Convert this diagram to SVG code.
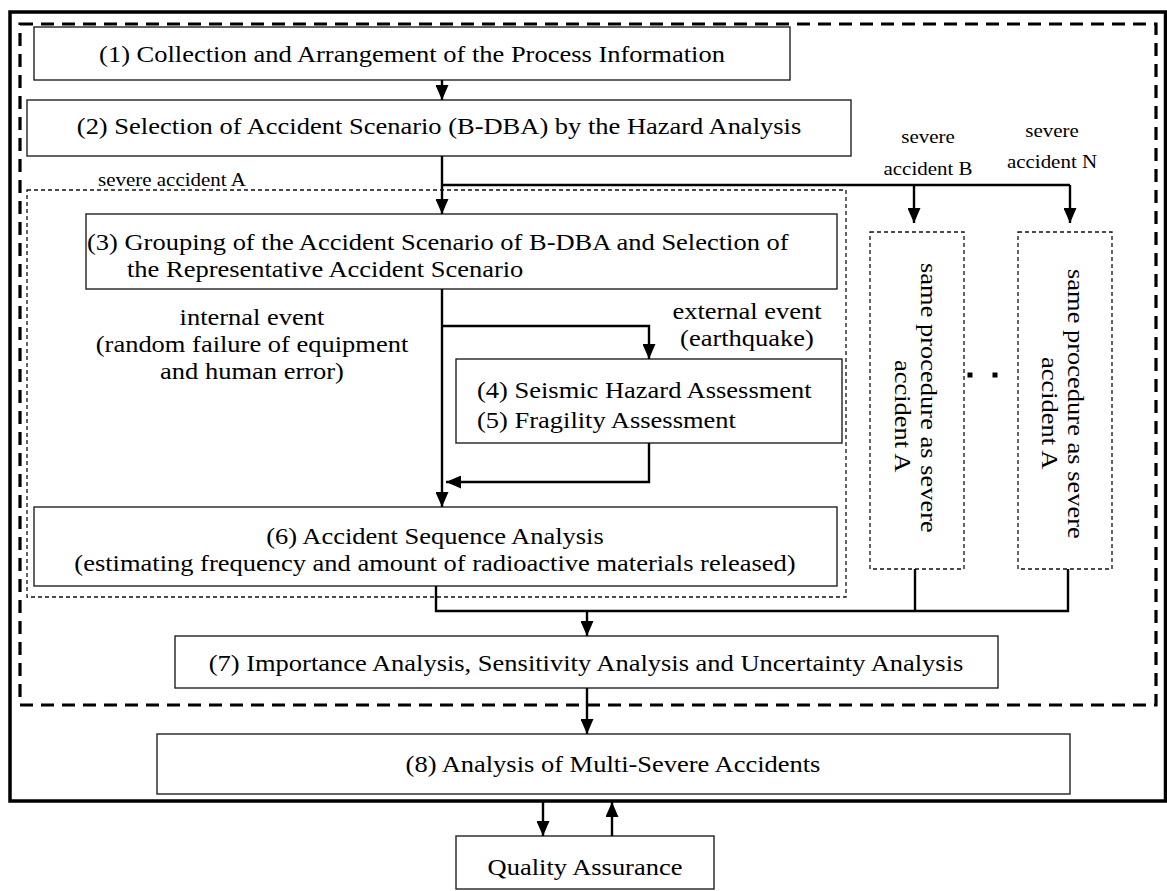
<svg xmlns="http://www.w3.org/2000/svg" width="1167" height="891" viewBox="0 0 1167 891">
<defs>
<marker id="arr" viewBox="0 0 15 13" refX="15" refY="6.5" markerWidth="15" markerHeight="13" markerUnits="userSpaceOnUse" orient="auto"><path d="M0,0 L15,6.5 L0,13 z" fill="#000"/></marker>
</defs>
<style>
text{font-family:"Liberation Serif","Times New Roman",serif;fill:#000}
.t{font-size:24px}
.s{font-size:19px}
.m{text-anchor:middle}
.box{fill:#fff;stroke:#222;stroke-width:1.4}
.dbox{fill:#fff;stroke:#111;stroke-width:1.3;stroke-dasharray:4 3}
.c{fill:none;stroke:#000;stroke-width:2.4}
.a{marker-end:url(#arr)}
</style>
<rect width="1167" height="891" fill="#fff"/>
<g id="frames">
<rect x="10" y="12" width="1155.5" height="789" fill="none" stroke="#000" stroke-width="3.5"/>
<rect x="20" y="24" width="1136" height="681" fill="none" stroke="#000" stroke-width="3.2" stroke-dasharray="13 8"/>
</g>
<g id="groupA">
<rect x="27" y="190" width="819" height="407" fill="none" stroke="#111" stroke-width="1.3" stroke-dasharray="4 3"/>
<text class="s" transform="translate(98,186) scale(1.104,1)">severe accident A</text>
</g>
<g id="n1"><rect class="box" x="34" y="27" width="756" height="53"/><text class="t m" transform="translate(412,62) scale(1.104,1)">(1) Collection and Arrangement of the Process Information</text></g>
<g id="n2"><rect class="box" x="27" y="100" width="824" height="56"/><text class="t m" transform="translate(439,134) scale(1.104,1)">(2) Selection of Accident Scenario (B-DBA) by the Hazard Analysis</text></g>
<g id="n3"><rect class="box" x="86" y="214" width="751" height="75"/>
<text class="t" transform="translate(87,250) scale(1.104,1)">(3) Grouping of the Accident Scenario of B-DBA and Selection of</text>
<text class="t" transform="translate(127,277) scale(1.104,1)">the Representative Accident Scenario</text></g>
<g id="lbl-internal">
<text class="t m" transform="translate(252,325) scale(1.104,1)">internal event</text>
<text class="t m" transform="translate(252,352) scale(1.104,1)">(random failure of equipment</text>
<text class="t m" transform="translate(252,379) scale(1.104,1)">and human error)</text>
</g>
<g id="lbl-external">
<text class="t m" transform="translate(747,319) scale(1.104,1)">external event</text>
<text class="t m" transform="translate(747,346) scale(1.104,1)">(earthquake)</text>
</g>
<g id="n45"><rect class="box" x="456" y="359" width="386" height="84"/>
<text class="t" transform="translate(477,398) scale(1.104,1)">(4) Seismic Hazard Assessment</text>
<text class="t" transform="translate(477,428) scale(1.104,1)">(5) Fragility Assessment</text></g>
<g id="n6"><rect class="box" x="34" y="507" width="803" height="79"/>
<text class="t m" transform="translate(435,544) scale(1.104,1)">(6) Accident Sequence Analysis</text>
<text class="t m" transform="translate(435,571) scale(1.104,1)">(estimating frequency and amount of radioactive materials released)</text></g>
<g id="lbl-B"><text class="s m" transform="translate(928,143) scale(1.104,1)">severe</text><text class="s m" transform="translate(928,175) scale(1.104,1)">accident B</text></g>
<g id="lbl-N"><text class="s m" transform="translate(1052,137) scale(1.104,1)">severe</text><text class="s m" transform="translate(1052,168) scale(1.104,1)">accident N</text></g>
<g id="nB"><rect class="dbox" x="870" y="232" width="94" height="337"/>
<text class="t" transform="translate(921,263) rotate(90) scale(1.104,1)">same procedure as severe</text>
<text class="t" transform="translate(895,360) rotate(90) scale(1.104,1)">accident A</text></g>
<g id="nN"><rect class="dbox" x="1018" y="232" width="94" height="337"/>
<text class="t" transform="translate(1068,269) rotate(90) scale(1.104,1)">same procedure as severe</text>
<text class="t" transform="translate(1042,357) rotate(90) scale(1.104,1)">accident A</text></g>
<g id="dots"><rect x="967.5" y="372.5" width="5" height="5" fill="#000"/><rect x="992.5" y="372.5" width="5" height="5" fill="#000"/></g>
<g id="n7"><rect class="box" x="175" y="636" width="823" height="52"/>
<text class="t m" transform="translate(586,671) scale(1.104,1)">(7) Importance Analysis, Sensitivity Analysis and Uncertainty Analysis</text></g>
<g id="n8"><rect class="box" x="157" y="734" width="913" height="60"/>
<text class="t m" transform="translate(613,772) scale(1.104,1)">(8) Analysis of Multi-Severe Accidents</text></g>
<g id="qa"><rect class="box" x="456" y="836" width="258" height="53"/>
<text class="t m" transform="translate(585,875) scale(1.104,1)">Quality Assurance</text></g>
<g id="connectors">
<path class="c a" d="M442,80 V100"/>
<path class="c a" d="M442,156 V214"/>
<path class="c" d="M442,185 H1070"/>
<path class="c a" d="M914,185 V223"/>
<path class="c a" d="M1070,185 V223"/>
<path class="c a" d="M442,289 V507"/>
<path class="c a" d="M442,326 H649 V359"/>
<path class="c a" d="M649,443 V482 H446"/>
<path class="c" d="M436,586 V611 H1068 V569"/>
<path class="c" d="M915,569 V611"/>
<path class="c a" d="M587,611 V636"/>
<path class="c a" d="M587,688 V734"/>
<path class="c a" d="M543,801 V836"/>
<path class="c a" d="M612,836 V802"/>
</g>
</svg>
